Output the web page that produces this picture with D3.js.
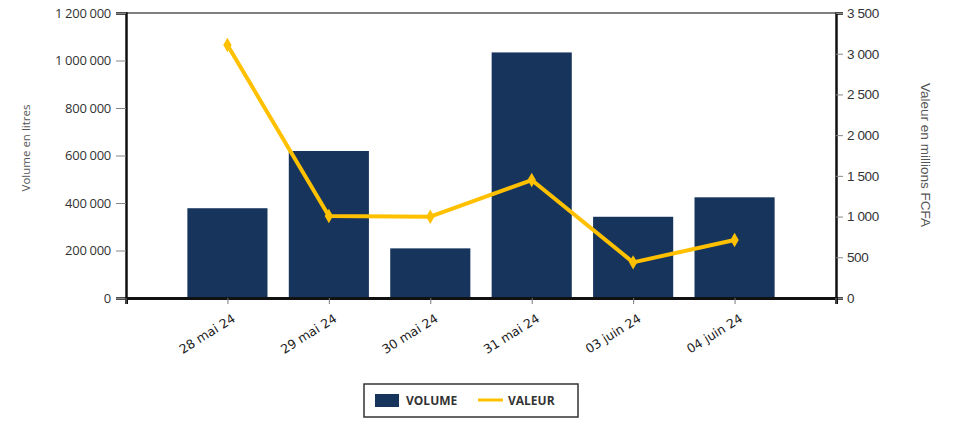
<!DOCTYPE html>
<html>
<head>
<meta charset="utf-8">
<script src="https://cdn.jsdelivr.net/npm/d3@7"></script>
<style>
  body { margin: 0; background: #fff; }
  text { font-family: "Open Sans", "DejaVu Sans", sans-serif; }
</style>
</head>
<body>
<svg id="chart" width="955" height="421"></svg>
<script>
// data
const categories = ["28 mai 24", "29 mai 24", "30 mai 24", "31 mai 24", "03 juin 24", "04 juin 24"];
const volume = [378000, 619000, 209000, 1034000, 342000, 424000];
const valeur = [3107, 1007, 998, 1449, 438, 712];
const volumeTicks = [0, 200000, 400000, 600000, 800000, 1000000, 1200000];
const valeurTicks = [0, 500, 1000, 1500, 2000, 2500, 3000, 3500];

const svg = d3.select("#chart");
const plotL = 126, plotR = 836, plotT = 13, plotB = 298;

const x = d3.scalePoint().domain(categories).range([plotL, plotR]).padding(1);
const yL = d3.scaleLinear().domain([0, 1200000]).range([plotB, plotT]);
const yR = d3.scaleLinear().domain([0, 3500]).range([plotB, plotT]);
const barW = x.step() * 0.79;

const fmt = d => d3.format(",")(d).replace(/,/g, " ");
const arial = "'Liberation Sans', Arial, sans-serif";

// top border
svg.append("line").attr("x1", plotL).attr("x2", plotR).attr("y1", plotT).attr("y2", plotT)
  .attr("stroke", "#555").attr("stroke-width", 1.5);

// bars
svg.append("g").selectAll("rect").data(volume).join("rect")
  .attr("x", (d, i) => x(categories[i]) - barW / 2)
  .attr("width", barW)
  .attr("y", d => yL(d))
  .attr("height", d => plotB - yL(d))
  .attr("fill", "#17355c");

// left axis
const gL = svg.append("g").attr("transform", `translate(${plotL},0)`)
  .call(d3.axisLeft(yL).tickValues(volumeTicks).tickFormat(fmt).tickSize(10).tickPadding(5));
gL.select(".domain").attr("stroke", "#111").attr("stroke-width", 2.5);
gL.selectAll(".tick line").attr("stroke", "#888");
gL.selectAll(".tick text").attr("font-size", 13).attr("fill", "#333").attr("letter-spacing", -0.3);

// right axis
const gR = svg.append("g").attr("transform", `translate(${plotR},0)`)
  .call(d3.axisRight(yR).tickValues(valeurTicks).tickFormat(fmt).tickSize(7).tickPadding(4));
gR.select(".domain").attr("stroke", "#111").attr("stroke-width", 2.5);
gR.selectAll(".tick line").attr("stroke", "#888");
gR.selectAll(".tick text").attr("font-size", 13.5).attr("fill", "#333").attr("letter-spacing", -0.4)
  .style("font-family", arial);

// bottom axis
const gB = svg.append("g").attr("transform", `translate(0,${plotB})`)
  .call(d3.axisBottom(x).tickSize(6).tickPadding(4));
gB.select(".domain").attr("stroke", "#111").attr("stroke-width", 3);
gB.selectAll(".tick line").attr("stroke", "#777");
gB.selectAll(".tick text")
  .attr("font-size", 12.5).attr("fill", "#222")
  .style("font-family", "'DejaVu Sans', sans-serif")
  .attr("text-anchor", "end")
  .attr("transform", "translate(6,19) rotate(-32)")
  .attr("dy", "0.35em").attr("y", 0);
[plotL, plotR].forEach(px => {
  gB.append("line").attr("x1", px).attr("x2", px).attr("y1", 0).attr("y2", 6).attr("stroke", "#777");
});

// line
const line = d3.line().x((d, i) => x(categories[i])).y(d => yR(d));
svg.append("path").datum(valeur).attr("d", line)
  .attr("fill", "none").attr("stroke", "#ffc000").attr("stroke-width", 4)
  .attr("stroke-linejoin", "round");
svg.append("g").selectAll("path").data(valeur).join("path")
  .attr("d", d3.symbol(d3.symbolDiamond, 60))
  .attr("transform", (d, i) => `translate(${x(categories[i])},${yR(d)})`)
  .attr("fill", "#ffc000");

// axis titles
svg.append("text").attr("transform", `translate(30,148) rotate(-90)`)
  .attr("text-anchor", "middle").attr("font-size", 11.5).attr("fill", "#555").text("Volume en litres");
svg.append("text").attr("transform", `translate(921,155) rotate(90)`)
  .attr("text-anchor", "middle").attr("font-size", 13.5).attr("fill", "#555")
  .style("font-family", arial).text("Valeur en millions FCFA");

// legend
const lg = svg.append("g");
lg.append("rect").attr("x", 364).attr("y", 384).attr("width", 214).attr("height", 33)
  .attr("fill", "#fff").attr("stroke", "#333").attr("stroke-width", 1.5);
lg.append("rect").attr("x", 375).attr("y", 394).attr("width", 24).attr("height", 13).attr("fill", "#17355c");
lg.append("text").attr("x", 406).attr("y", 405).attr("font-size", 12).attr("font-weight", "bold")
  .attr("fill", "#333").text("VOLUME");
lg.append("line").attr("x1", 478).attr("x2", 503).attr("y1", 400).attr("y2", 400)
  .attr("stroke", "#ffc000").attr("stroke-width", 3);
lg.append("text").attr("x", 508).attr("y", 405).attr("font-size", 12).attr("font-weight", "bold")
  .attr("fill", "#333").text("VALEUR");
</script>
</body>
</html>
